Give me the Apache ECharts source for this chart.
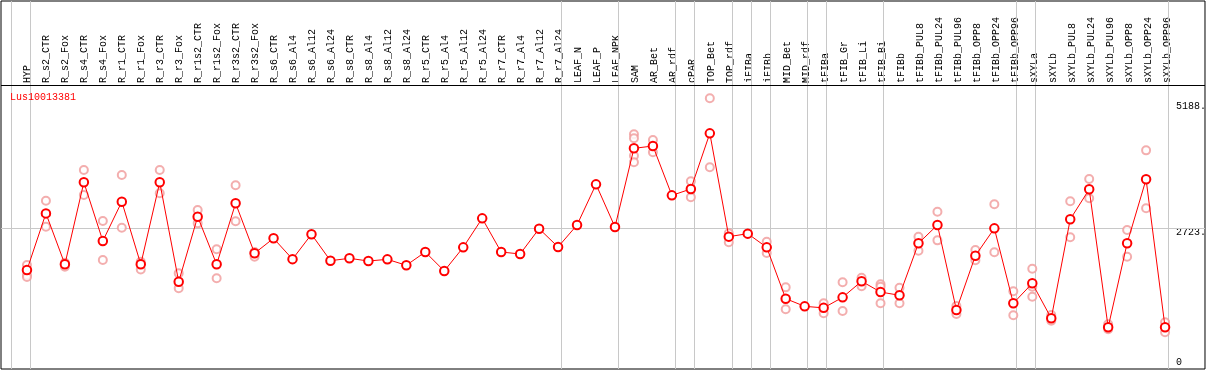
<!DOCTYPE html>
<html>
<head>
<meta charset="utf-8">
<script src="https://cdn.jsdelivr.net/npm/echarts@6/dist/echarts.min.js"></script>
<style>
html,body{margin:0;padding:0;background:#fff;}
#c{width:1209px;height:370px;}
</style>
</head>
<body>
<div id="c"></div>
<script>
const categories = ['HYP','R_s2_CTR','R_s2_Fox','R_s4_CTR','R_s4_Fox','R_r1_CTR','R_r1_Fox','R_r3_CTR','R_r3_Fox','R_r1s2_CTR','R_r1s2_Fox','R_r3s2_CTR','R_r3s2_Fox','R_s6_CTR','R_s6_Al4','R_s6_Al12','R_s6_Al24','R_s8_CTR','R_s8_Al4','R_s8_Al12','R_s8_Al24','R_r5_CTR','R_r5_Al4','R_r5_Al12','R_r5_Al24','R_r7_CTR','R_r7_Al4','R_r7_Al12','R_r7_Al24','LEAF_N','LEAF_P','LEAF_NPK','SAM','AR_Bet','AR_rdf','cPAR','TOP_Bet','TOP_rdf','iFIBa','iFIBb','MID_Bet','MID_rdf','tFIBa','tFIB_Gr','tFIB_Li','tFIB_Bi','tFIBb','tFIBb_PUL8','tFIBb_PUL24','tFIBb_PUL96','tFIBb_OPP8','tFIBb_OPP24','tFIBb_OPP96','sXYLa','sXYLb','sXYLb_PUL8','sXYLb_PUL24','sXYLb_PUL96','sXYLb_OPP8','sXYLb_OPP24','sXYLb_OPP96'];

const meanValues = [1870,3020,1985,3652,2459,3258,1985,3652,1632,2953,1985,3225,2209,2513,2090,2595,2059,2107,2052,2086,1965,2235,1849,2330,2919,2235,2195,2709,2337,2784,3610,2743,4342,4389,3386,3516,4646,2547,2608,2330,1287,1131,1100,1314,1640,1422,1355,2412,2784,1057,2160,2716,1193,1599,888,2900,3509,705,2412,3712,705];

const rep1 = [1971,3278,2018,3902,2865,3800,2038,3902,1802,3089,2290,3591,2235,null,null,null,null,null,null,null,null,null,null,null,null,null,null,null,null,null,null,null,4627,4511,null,3672,5359,2615,null,2445,1517,null,1193,1619,1713,1579,1510,2547,3054,1138,2276,3205,1437,1896,955,3266,3719,766,2682,4301,807];
const rep2 = [1768,2749,1937,3394,2073,2729,1882,3428,1498,2817,1701,2859,2140,null,null,null,null,null,null,null,null,null,null,null,null,null,null,null,null,null,null,null,4546,4261,null,3347,3956,2432,null,2215,1071,null,990,1036,1538,1530,1193,2262,2472,975,2067,2229,949,1530,839,2534,3327,664,2140,3123,604];
const rep3 = [1727,null,null,null,null,null,null,null,null,null,null,null,null,null,null,null,null,null,null,null,null,null,null,null,null,null,null,null,null,null,null,null,4193,null,null,null,null,null,null,null,null,null,null,null,null,1193,null,null,null,null,null,null,null,1327,null,null,null,null,null,null,null];
const rep4 = [null,null,null,null,null,null,null,null,null,null,null,null,null,null,null,null,null,null,null,null,null,null,null,null,null,null,null,null,null,null,null,null,4058,null,null,null,null,null,null,null,null,null,null,null,null,null,null,null,null,null,null,null,null,null,null,null,null,null,null,null,null];

const groupBoundaries = [0,1,29,32,35,36,38,39,40,42,43,46,53,54,61];
const yTickValues = [0,2723,5188];
const yTickLabels = ['0','2723.','5188.'];
const geneName = 'Lus10013381';

// layout helpers (pixel geometry of the plot)
const PX0 = 27, STEP = 19;           // pixel of first point, pixels per category
const Y0 = 362, YS = 134/2723;       // pixel of value 0, pixels per unit
const xMin = (1 - PX0)/STEP, xMax = (1207 - PX0)/STEP;
const yMin = -(369 - Y0)/YS, yMax = (Y0 - 1)/YS;
const headerVal = (Y0 - 85)/YS;
const boundaryOffset = (PX0 - 11)/STEP;

const meanData = meanValues.map((v,i)=>[i,v]);
const repData = [];
[rep1,rep2,rep3,rep4].forEach(arr=>arr.forEach((v,i)=>{ if(v!=null) repData.push([i,v]); }));

const font = 'Liberation Mono';
const gray = '#c8c8c8';

const markData = groupBoundaries.map(k=>({xAxis: k - boundaryOffset, lineStyle:{color:gray,width:1,type:'solid'}}));
markData.push({yAxis: 2723, lineStyle:{color:gray,width:1,type:'solid'}});
markData.push({yAxis: headerVal, lineStyle:{color:'#000',width:1,type:'solid'}});

const chart = echarts.init(document.getElementById('c'), null, {renderer:'canvas'});
chart.setOption({
  animation:false,
  backgroundColor:'#fff',
  title:{text:geneName, left:10, top:92, padding:0,
    textStyle:{color:'#ff0000', fontSize:10, fontWeight:'normal', fontFamily:font}},
  grid:[
    {left:1, right:2, top:1, bottom:1, show:true, borderColor:'#000', borderWidth:1, backgroundColor:'transparent'},
    {left:PX0 - STEP/2, width:STEP*categories.length, top:85, bottom:1}
  ],
  xAxis:[
    {type:'value', gridIndex:0, min:xMin, max:xMax, show:false},
    {type:'category', gridIndex:1, position:'top', data:categories, boundaryGap:true,
      axisLine:{show:false}, axisTick:{show:false}, splitLine:{show:false},
      axisLabel:{interval:0, rotate:90, margin:2, color:'#000', fontSize:10, fontFamily:font}}
  ],
  yAxis:[
    {type:'value', gridIndex:0, min:yMin, max:yMax, position:'right',
      axisLine:{show:false}, axisTick:{show:false}, splitLine:{show:false},
      axisLabel:{show:true, inside:true, margin:29, align:'left', customValues:yTickValues,
        color:'#000', fontSize:10, fontFamily:font,
        formatter:(v)=>{const i=yTickValues.indexOf(v); return i>=0 ? (v===2723 ? '{d|'+yTickLabels[i]+'}' : yTickLabels[i]) : '';},
        rich:{d:{fontSize:10, fontFamily:font, color:'#000', padding:[9,0,0,0]}}}},
    {type:'value', gridIndex:1, show:false}
  ],
  series:[
    {type:'scatter', name:'replicates', xAxisIndex:0, yAxisIndex:0, data:repData,
      symbol:'emptyCircle', symbolSize:8, z:2,
      itemStyle:{color:'#f09a9a', borderColor:'#f09a9a', borderWidth:1.5}},
    {type:'line', name:'mean', xAxisIndex:0, yAxisIndex:0, data:meanData,
      symbol:'emptyCircle', symbolSize:8.5, z:3,
      lineStyle:{color:'#ff0000', width:1},
      itemStyle:{color:'#ff0000', borderColor:'#ff0000', borderWidth:2},
      markLine:{silent:true, symbol:'none', label:{show:false}, z:1, data:markData}}
  ]
});
</script>
</body>
</html>
